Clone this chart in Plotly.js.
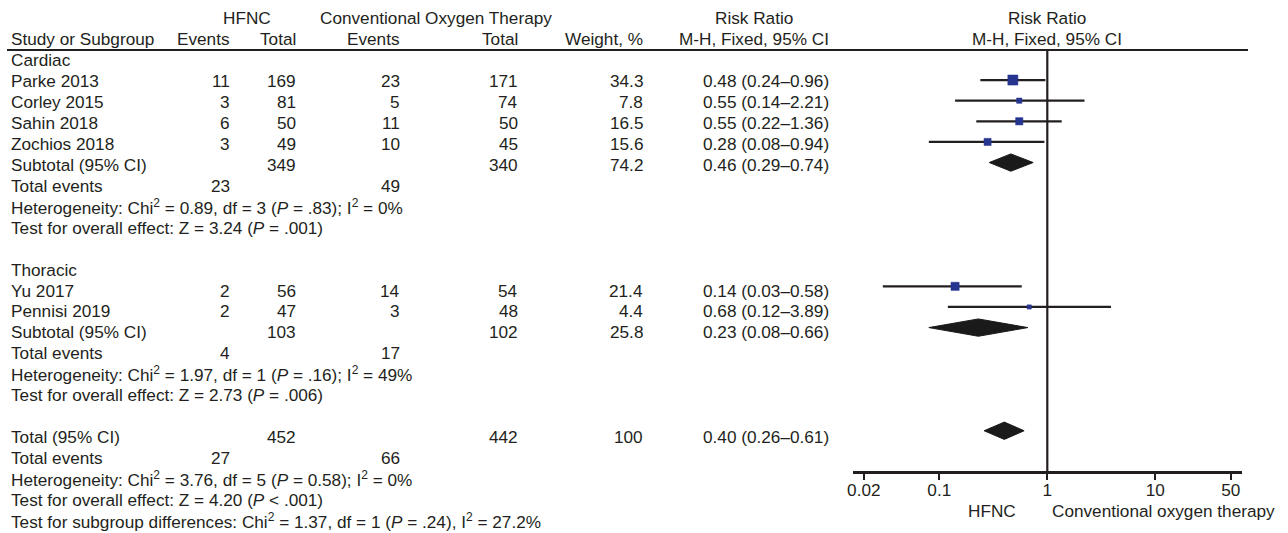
<!DOCTYPE html>
<html>
<head>
<meta charset="utf-8">
<script src="https://cdn.plot.ly/plotly-3.0.1.min.js"></script>
<style>html,body{margin:0;padding:0;background:#fff;}#chart{width:1288px;height:533px;}</style>
</head>
<body>
<div id="chart"></div>
<script>
// ---------- data ----------
const studies     = ["Parke 2013", "Corley 2015", "Sahin 2018", "Zochios 2018", "Yu 2017", "Pennisi 2019"];
const subgroupOf  = ["Cardiac", "Cardiac", "Cardiac", "Cardiac", "Thoracic", "Thoracic"];
const hfncEvents  = [11, 3, 6, 3, 2, 2];
const hfncTotal   = [169, 81, 50, 49, 56, 47];
const cotEvents   = [23, 5, 11, 10, 14, 3];
const cotTotal    = [171, 74, 50, 45, 54, 48];
const weights     = [34.3, 7.8, 16.5, 15.6, 21.4, 4.4];
const rr          = [0.48, 0.55, 0.55, 0.28, 0.14, 0.68];
const rrLo        = [0.24, 0.14, 0.22, 0.08, 0.03, 0.12];
const rrHi        = [0.96, 2.21, 1.36, 0.94, 0.58, 3.89];

const subgroups        = ["Cardiac", "Thoracic"];
const subHfncTotal     = [349, 103];
const subCotTotal      = [340, 102];
const subHfncEvents    = [23, 4];
const subCotEvents     = [49, 17];
const subWeight        = [74.2, 25.8];
const subRR            = [0.46, 0.23];
const subLo            = [0.29, 0.08];
const subHi            = [0.74, 0.66];
const subHet           = ["Heterogeneity: Chi<sup>2</sup> = 0.89, df = 3 (<i>P</i> = .83); I<sup>2</sup> = 0%",
                          "Heterogeneity: Chi<sup>2</sup> = 1.97, df = 1 (<i>P</i> = .16); I<sup>2</sup> = 49%"];
const subEffect        = ["Test for overall effect: Z = 3.24 (<i>P</i> = .001)",
                          "Test for overall effect: Z = 2.73 (<i>P</i> = .006)"];

const totalHfncTotal = 452, totalCotTotal = 442;
const totalHfncEvents = 27, totalCotEvents = 66;
const totalWeight = 100, totalRR = 0.40, totalLo = 0.26, totalHi = 0.61;
const totalHet = "Heterogeneity: Chi<sup>2</sup> = 3.76, df = 5 (<i>P</i> = 0.58); I<sup>2</sup> = 0%";
const totalEffect = "Test for overall effect: Z = 4.20 (<i>P</i> &lt; .001)";
const subgroupDiff = "Test for subgroup differences: Chi<sup>2</sup> = 1.37, df = 1 (<i>P</i> = .24), I<sup>2</sup> = 27.2%";

const tickVals = [0.02, 0.1, 1, 10, 50];
const tickText = ["0.02", "0.1", "1", "10", "50"];

// ---------- layout helpers ----------
const W = 1288, H = 533;
const TXT = "#231f20";
const FONT = "Liberation Sans, Arial, sans-serif";
const FS = 17.2;
const fmt = v => v.toFixed(2);
const ci = (e, l, h) => fmt(e) + " (" + fmt(l) + "\u2013" + fmt(h) + ")";

// text rows: pixel centre = TXT0 + TXTP*row
const TXT0 = 60.3, TXTP = 20.93;
// mark rows: pixel centre = MK0 + MKP*row
const MK0 = 59.4, MKP = 20.63;

const annotations = [];
function txtPx(ypx, px, s, anchor) {
  annotations.push({
    xref: "paper", yref: "paper", x: px / W, y: 1 - ypx / H,
    xanchor: anchor, yanchor: "middle", text: s, showarrow: false,
    font: {family: FONT, size: FS, color: TXT}
  });
}
function txt(row, px, s, anchor) { txtPx(TXT0 + TXTP * row, px, s, anchor); }

// column anchors (px)
const C_LABEL = 9, C_HE = 232, C_HT = 298, C_CE = 402, C_CT = 520, C_W = 645, C_RR = 831;

// headers
txt(-2.02, 247, "HFNC", "center");
txt(-2.02, 436, "Conventional Oxygen Therapy", "center");
txt(-2.02, 754, "Risk Ratio", "center");
txt(-2.02, 1047, "Risk Ratio", "center");
txt(-1, C_LABEL, "Study or Subgroup", "left");
txt(-1, C_HE, "Events", "right");
txt(-1, C_HT, "Total", "right");
txt(-1, C_CE, "Events", "right");
txt(-1, C_CT, "Total", "right");
txt(-1, C_W, "Weight, %", "right");
txt(-1, C_RR, "M-H, Fixed, 95% CI", "right");
txt(-1, 1047, "M-H, Fixed, 95% CI", "center");

// rows
const studyRows = [], subRows = [];
let row = 0;
subgroups.forEach((g, gi) => {
  txt(row, C_LABEL, g, "left"); row++;
  studies.forEach((s, i) => {
    if (subgroupOf[i] !== g) return;
    txt(row, C_LABEL, s, "left");
    txt(row, C_HE, String(hfncEvents[i]), "right");
    txt(row, C_HT, String(hfncTotal[i]), "right");
    txt(row, C_CE, String(cotEvents[i]), "right");
    txt(row, C_CT, String(cotTotal[i]), "right");
    txt(row, C_W, weights[i].toFixed(1), "right");
    txt(row, C_RR, ci(rr[i], rrLo[i], rrHi[i]), "right");
    studyRows[i] = row; row++;
  });
  txt(row, C_LABEL, "Subtotal (95% CI)", "left");
  txt(row, C_HT, String(subHfncTotal[gi]), "right");
  txt(row, C_CT, String(subCotTotal[gi]), "right");
  txt(row, C_W, subWeight[gi].toFixed(1), "right");
  txt(row, C_RR, ci(subRR[gi], subLo[gi], subHi[gi]), "right");
  subRows[gi] = row; row++;
  txt(row, C_LABEL, "Total events", "left");
  txt(row, C_HE, String(subHfncEvents[gi]), "right");
  txt(row, C_CE, String(subCotEvents[gi]), "right"); row++;
  txt(row, C_LABEL, subHet[gi], "left"); row++;
  txt(row, C_LABEL, subEffect[gi], "left"); row++;
  row++; // blank
});
const totalRow = row;
txt(row, C_LABEL, "Total (95% CI)", "left");
txt(row, C_HT, String(totalHfncTotal), "right");
txt(row, C_CT, String(totalCotTotal), "right");
txt(row, C_W, String(totalWeight), "right");
txt(row, C_RR, ci(totalRR, totalLo, totalHi), "right"); row++;
txt(row, C_LABEL, "Total events", "left");
txt(row, C_HE, String(totalHfncEvents), "right");
txt(row, C_CE, String(totalCotEvents), "right"); row++;
txt(row, C_LABEL, totalHet, "left"); row++;
txt(row, C_LABEL, totalEffect, "left"); row++;
txt(row, C_LABEL, subgroupDiff, "left"); row++;

// axis captions
txtPx(511, 992, "HFNC", "center");
txtPx(511, 1163, "Conventional oxygen therapy", "center");

// ---------- traces ----------
const toRow = px => (px - MK0) / MKP;
const traces = [];
// CI lines
const lx = [], ly = [];
studies.forEach((s, i) => { lx.push(rrLo[i], rrHi[i], null); ly.push(studyRows[i], studyRows[i], null); });
traces.push({x: lx, y: ly, mode: "lines", line: {color: "#231f20", width: 2.2}, hoverinfo: "skip", cliponaxis: false});
// vertical line at 1
traces.push({x: [1, 1], y: [toRow(50), toRow(472.3)], mode: "lines", line: {color: "#231f20", width: 2.2}, hoverinfo: "skip", cliponaxis: false});
// study squares
traces.push({
  x: rr, y: studies.map((s, i) => studyRows[i]), mode: "markers",
  marker: {symbol: "square", color: "#26358f", opacity: 1, size: weights.map(w => 1.55 * Math.sqrt(w) + 1),
           line: {width: 0.5, color: "#26358f"}},
  hoverinfo: "skip", cliponaxis: false
});
// diamonds
const dh = 0.42;
function diamond(e, l, h, r) {
  traces.push({x: [l, e, h, e, l], y: [r, r - dh, r, r + dh, r], mode: "lines", fill: "toself",
    fillcolor: "#1a1a1a", line: {color: "#1a1a1a", width: 1}, hoverinfo: "skip", cliponaxis: false});
}
subgroups.forEach((g, gi) => diamond(subRR[gi], subLo[gi], subHi[gi], subRows[gi]));
diamond(totalRR, totalLo, totalHi, totalRow);

// ---------- layout ----------
const decade = 108, onePx = 1047.3, axL = 853.3, axR = 1242.3;
const layout = {
  width: W, height: H, margin: {l: 0, r: 0, t: 0, b: 0},
  paper_bgcolor: "#fff", plot_bgcolor: "rgba(0,0,0,0)", showlegend: false,
  xaxis: {
    type: "log", domain: [axL / W, axR / W],
    range: [-(onePx - axL) / decade, (axR - onePx) / decade],
    anchor: "free", position: 1 - 472.3 / H,
    showline: true, linecolor: "#231f20", linewidth: 2.2,
    ticks: "outside", ticklen: 6, tickwidth: 2.2, tickcolor: "#231f20",
    ticklabelstandoff: -4,
    tickmode: "array", tickvals: tickVals, ticktext: tickText,
    tickfont: {family: FONT, size: FS, color: TXT},
    showgrid: false, zeroline: false, fixedrange: true
  },
  yaxis: {
    domain: [0, 1], range: [toRow(H), toRow(0)], visible: false,
    showgrid: false, zeroline: false, fixedrange: true
  },
  shapes: [{type: "line", xref: "paper", yref: "paper", x0: 7 / W, x1: 1248 / W,
    y0: 1 - 50 / H, y1: 1 - 50 / H, line: {color: "#231f20", width: 2.2}}],
  annotations: annotations
};

Plotly.newPlot("chart", traces, layout, {staticPlot: true, displayModeBar: false});
</script>
</body>
</html>
